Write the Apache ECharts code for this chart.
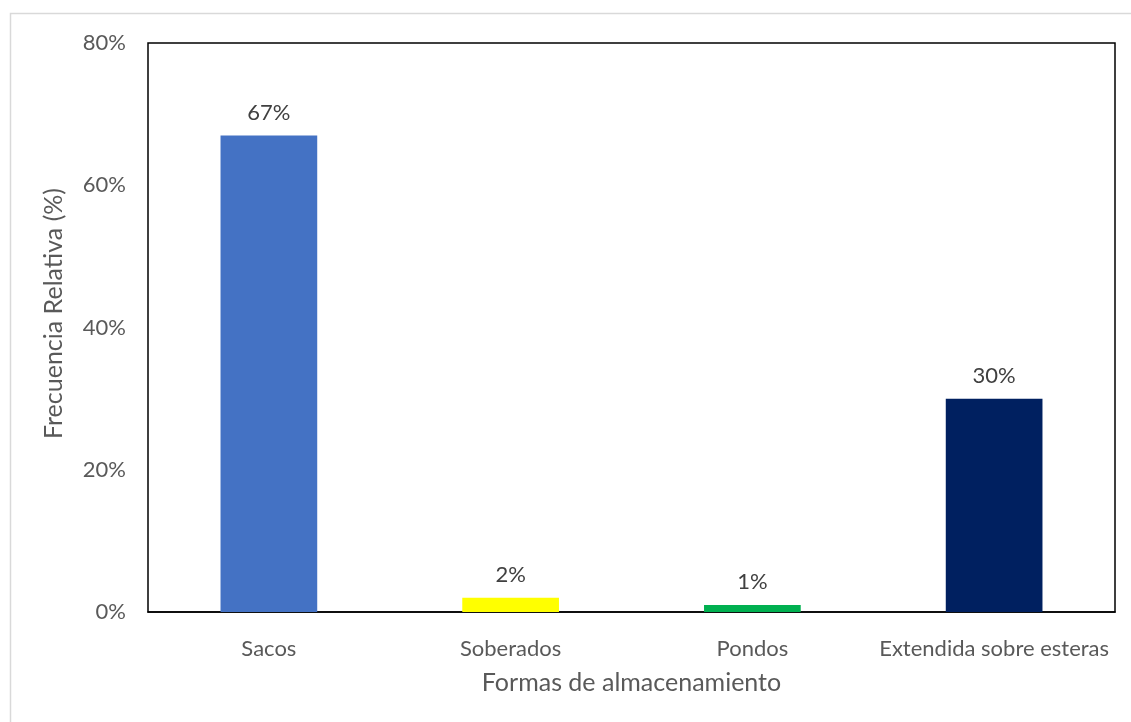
<!DOCTYPE html>
<html>
<head>
<meta charset="utf-8">
<script src="https://cdn.jsdelivr.net/npm/echarts@6/dist/echarts.min.js"></script>
<style>
html,body{margin:0;padding:0;background:#fff;}
#chart{width:1131px;height:722px;}
</style>
</head>
<body>
<div id="chart"></div>
<script>
// Storage methods and their relative frequency (%)
const categories = ['Sacos', 'Soberados', 'Pondos', 'Extendida sobre esteras'];
const values = [67, 2, 1, 30];
const barColors = ['#4472C4', '#FFFF00', '#00B050', '#002060'];
const yTicks = [0, 20, 40, 60, 80];

const font = 'Lato, "Open Sans", sans-serif';
const textColor = '#595959';

const chart = echarts.init(document.getElementById('chart'), null, { renderer: 'canvas' });
chart.setOption({
  animation: false,
  backgroundColor: '#fff',
  graphic: [{
    type: 'rect',
    shape: { x: 10.5, y: 13.5, width: 1130, height: 720 },
    style: { fill: 'none', stroke: '#D9D9D9', lineWidth: 1.5 },
    silent: true
  }],
  grid: {
    left: 148, top: 43, right: 16, bottom: 110,
    show: true, borderColor: '#000', borderWidth: 1.5, backgroundColor: 'transparent'
  },
  xAxis: {
    type: 'category',
    data: categories,
    name: 'Formas de almacenamiento',
    nameLocation: 'middle',
    nameGap: 58,
    nameTextStyle: { fontFamily: font, fontSize: 25, color: textColor },
    axisLine: { show: true, lineStyle: { color: '#000', width: 1.5 } },
    axisTick: { show: false },
    axisLabel: { fontFamily: font, fontSize: 22, color: textColor, margin: 26, interval: 0 }
  },
  yAxis: {
    type: 'value',
    min: yTicks[0],
    max: yTicks[yTicks.length - 1],
    interval: 20,
    name: 'Frecuencia Relativa (%)',
    nameLocation: 'middle',
    nameGap: 82,
    nameTextStyle: { fontFamily: font, fontSize: 25, color: textColor, padding: [0, 0, 0, 28] },
    axisLine: { show: false },
    axisTick: { show: false },
    splitLine: { show: false },
    axisLabel: { fontFamily: font, fontSize: 22, color: textColor, margin: 22, formatter: v => v + '%' }
  },
  series: [{
    type: 'bar',
    data: values.map((v, i) => ({ value: v, itemStyle: { color: barColors[i] } })),
    barWidth: '40%',
    label: {
      show: true,
      position: 'top',
      distance: 12,
      fontFamily: font,
      fontSize: 22,
      color: '#404040',
      formatter: p => p.value + '%'
    }
  }]
});
</script>
</body>
</html>
